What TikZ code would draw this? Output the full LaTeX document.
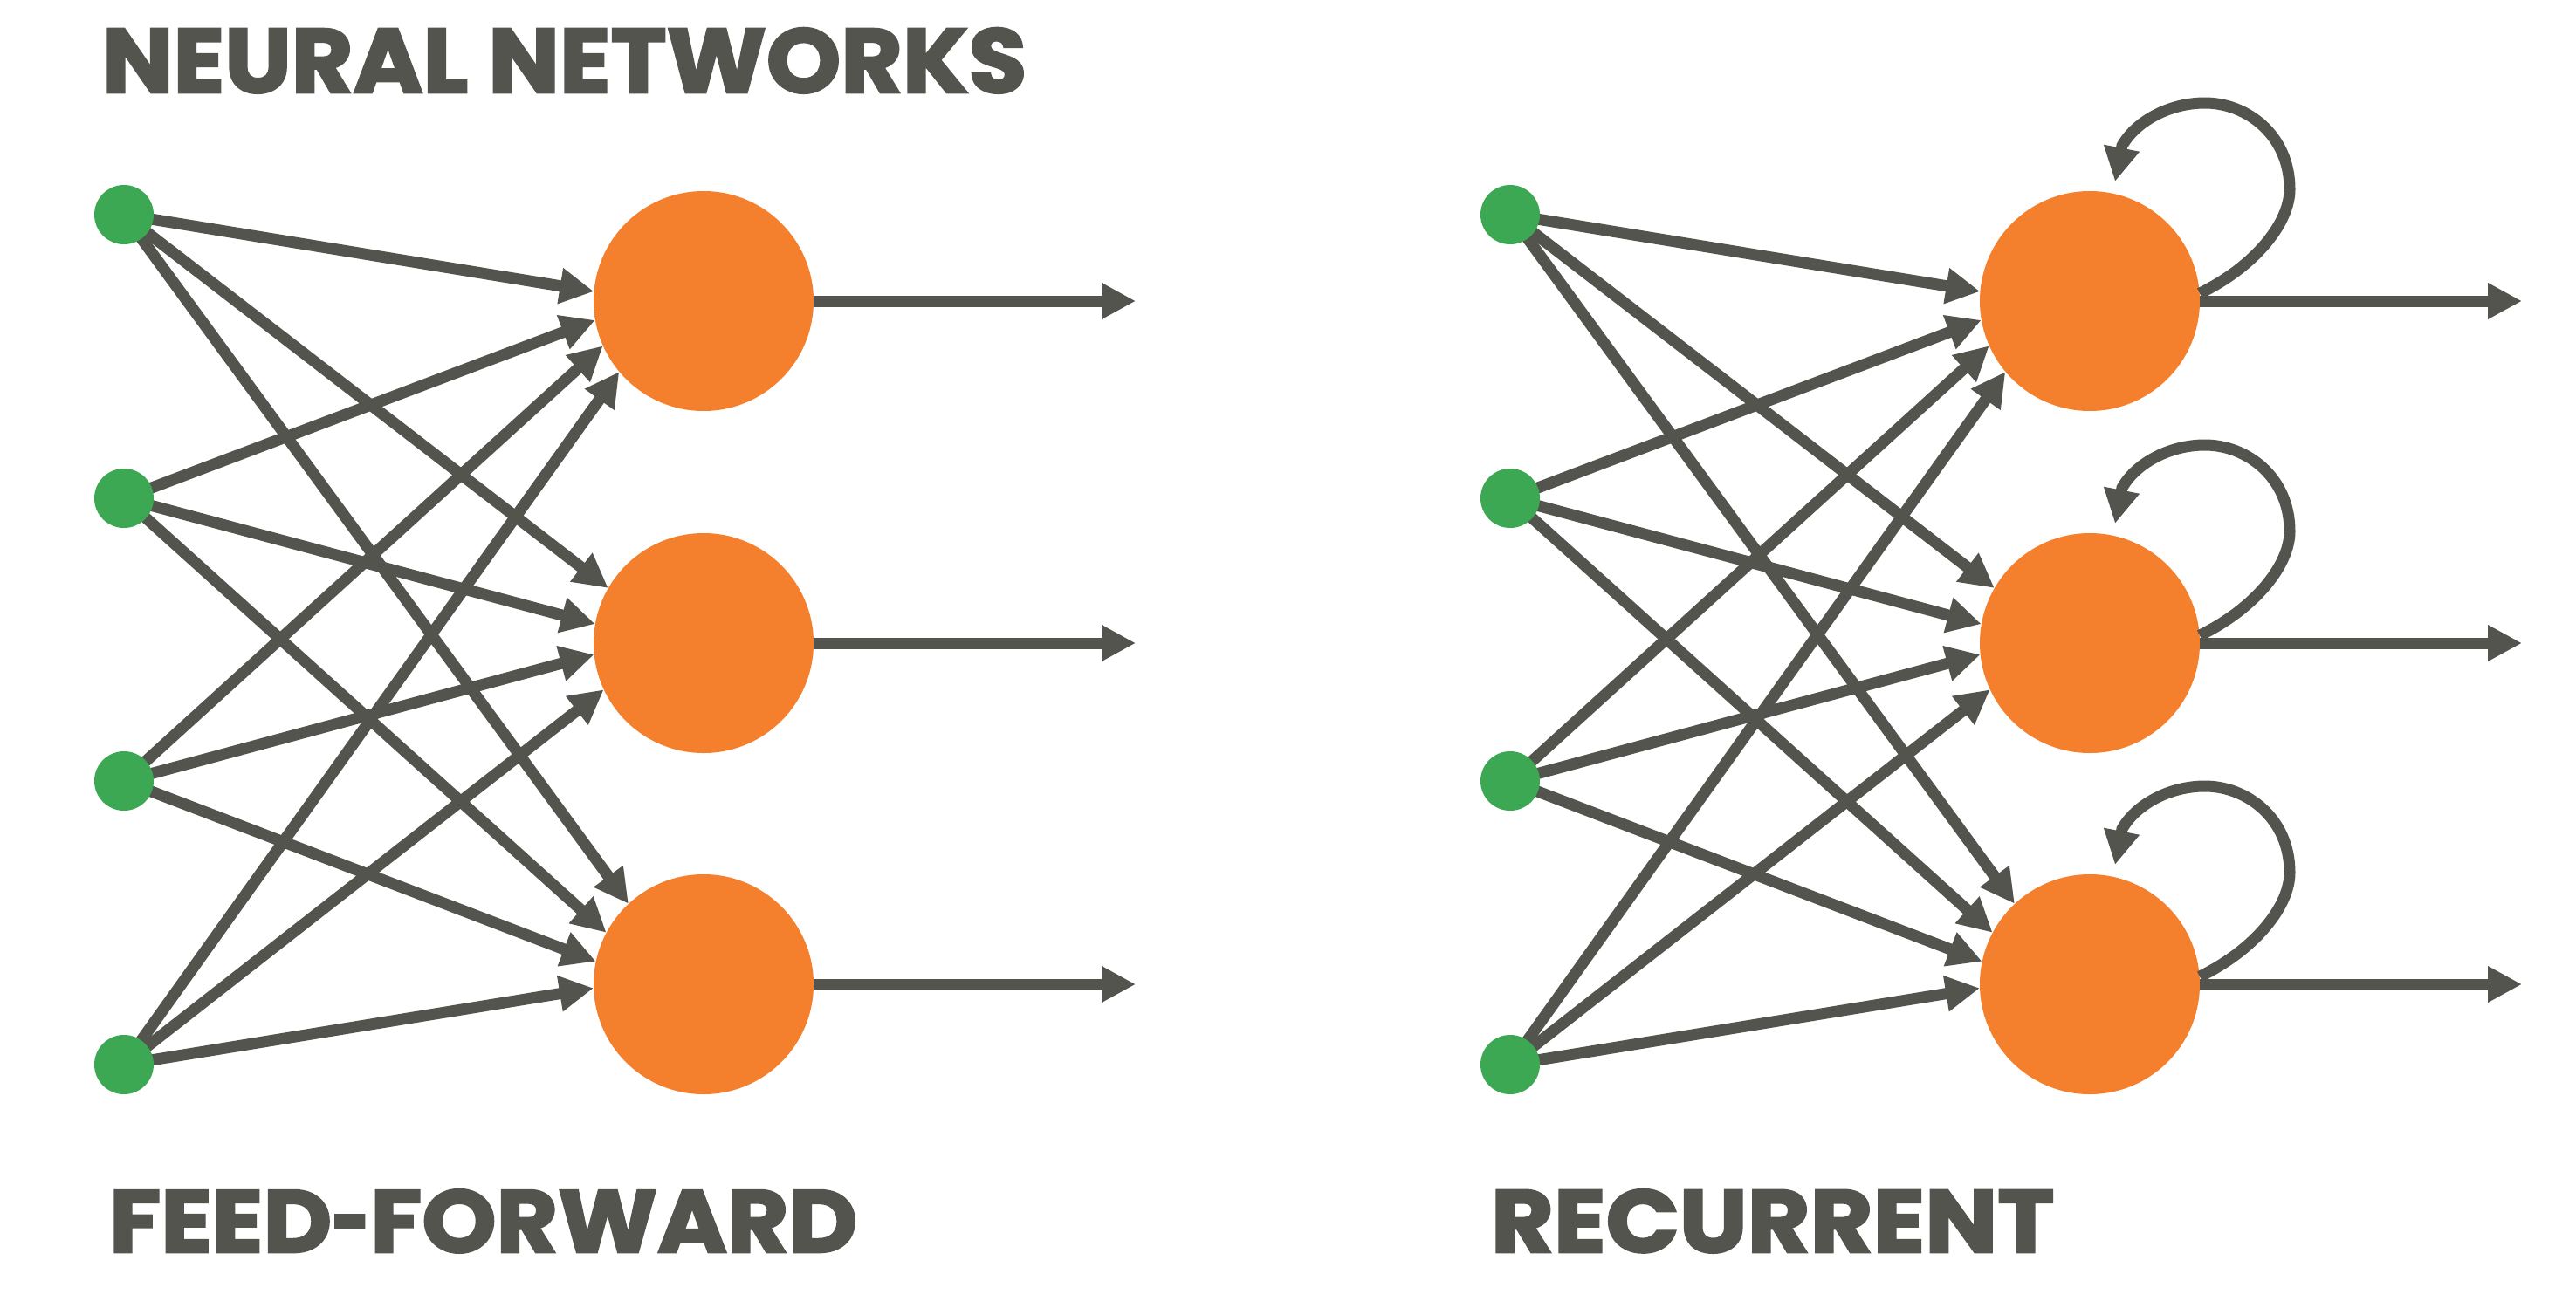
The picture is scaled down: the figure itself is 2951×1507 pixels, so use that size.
\documentclass[tikz,border=0pt]{standalone}
\usepackage{graphicx}
\usepackage{fontspec}
\newfontfamily\headfont{Poppins}[BoldFeatures={FakeBold=2.5}]
\usetikzlibrary{arrows.meta}
\definecolor{ink}{RGB}{83,84,77}
\definecolor{neuron}{RGB}{244,127,44}
\definecolor{inp}{RGB}{61,168,83}
\pgfdeclarelayer{bg}
\pgfsetlayers{bg,main}
\begin{document}
\begin{tikzpicture}[x=1pt,y=-1pt,
  edge/.style={draw=ink,line width=13pt,-{Triangle[length=39pt,width=39pt]}},
  hidden/.style={circle,fill=neuron,minimum size=252pt,inner sep=0pt},
  inputnode/.style={circle,fill=inp,minimum size=68pt,inner sep=0pt},
  headtext/.style={anchor=north west,inner sep=0pt,outer sep=0pt,text=ink}]
\useasboundingbox (0,0) rectangle (2951,1507);

\foreach \p/\dx in {L/0,R/1588}{
  \foreach \i/\y in {1/246,2/571,3/895,4/1220}
    \node[inputnode] (g\p\i) at (142+\dx,\y) {};
  \foreach \j/\y in {1/345,2/737,3/1128}{
    \node[hidden] (o\p\j) at (806+\dx,\y) {};
    \coordinate (t\p\j) at (1301+\dx,\y);
  }
}

\begin{pgfonlayer}{bg}
\fill[white] (0,0) rectangle (2951,1507);
\foreach \p in {L,R}{
  \foreach \j/\angs in {1/{175,190,204,220},2/{150,170,186,205},3/{133,152,168,182}}{
    \foreach \a [count=\i] in \angs {
      \draw[edge] (g\p\i.center) -- (o\p\j.\a);
    }
  }
}
\end{pgfonlayer}

\foreach \p in {L,R}{
  \foreach \j in {1,2,3}{
    \draw[edge] (o\p\j.east) -- (t\p\j);
  }
}

\foreach \j in {1,2,3}{
  \begin{scope}[shift={(oR\j.center)}]
    \draw[edge] (oR\j.4) .. controls (190,-40) and (229,-90) .. (229,-128)
      .. controls (229,-190) and (180,-227) .. (132,-227)
      .. controls (90,-227) and (52,-205) .. (37,-178) -- (29,-137);
  \end{scope}
}

\node[headtext] (title) at (117,32) {\resizebox{1058pt}{74pt}{\headfont\bfseries NEURAL NETWORKS}};
\node[headtext] (ff) at (125,1363) {\resizebox{857pt}{72pt}{\headfont\bfseries FEED\scalebox{0.7}[1]{-}FORWARD}};
\node[headtext] (rec) at (1708,1363) {\resizebox{645pt}{72pt}{\headfont\bfseries RECURRENT}};
\end{tikzpicture}
\end{document}
